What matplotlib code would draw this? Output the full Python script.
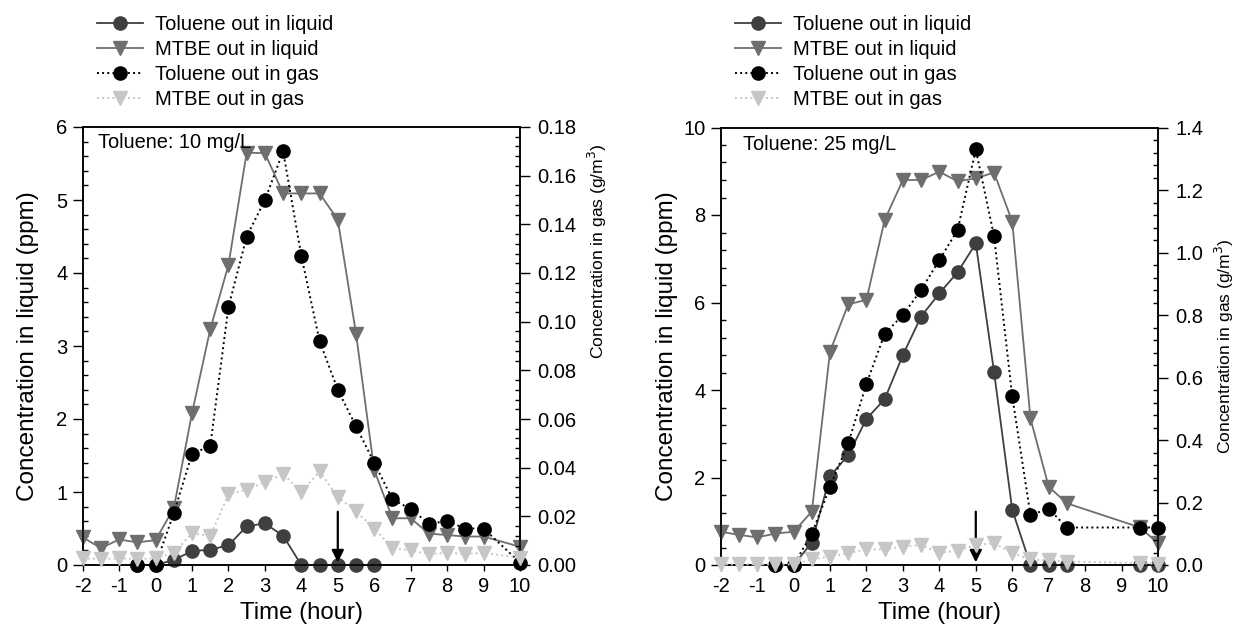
import matplotlib
matplotlib.use("Agg")
import matplotlib.pyplot as plt
from matplotlib.lines import Line2D
from matplotlib.ticker import MultipleLocator, FormatStrFormatter

plt.rcParams['font.family'] = ['Liberation Sans', 'DejaVu Sans']

# ---------------- Toluene 10 mg/L ----------------
a_tol_liq_t = [-0.5, 0, 0.5, 1, 1.5, 2, 2.5, 3, 3.5, 4, 4.5, 5, 5.5, 6]
a_tol_liq = [0, 0, 0.07, 0.19, 0.21, 0.27, 0.53, 0.57, 0.40, 0, 0, 0, 0, 0]

a_mtbe_liq_t = [-2, -1.5, -1, -0.5, 0, 0.5, 1, 1.5, 2, 2.5, 3, 3.5, 4, 4.5, 5,
                5.5, 6, 6.5, 7, 7.5, 8, 8.5, 9, 10]
a_mtbe_liq = [0.38, 0.23, 0.35, 0.31, 0.34, 0.78, 2.08, 3.23, 4.11, 5.65, 5.64,
              5.09, 5.09, 5.09, 4.73, 3.17, 1.30, 0.64, 0.64, 0.43, 0.41, 0.39,
              0.39, 0.25]

a_tol_gas_t = [-0.5, 0, 0.5, 1, 1.5, 2, 2.5, 3, 3.5, 4, 4.5, 5, 5.5, 6, 6.5,
               7, 7.5, 8, 8.5, 9, 10]
a_tol_gas = [0, 0, 0.0213, 0.0456, 0.049, 0.106, 0.135, 0.150, 0.170, 0.127,
             0.092, 0.072, 0.057, 0.042, 0.027, 0.023, 0.017, 0.018, 0.015,
             0.015, 0.001]

a_mtbe_gas_t = [-2, -1.5, -1, -0.5, 0, 0.5, 1, 1.5, 2, 2.5, 3, 3.5, 4, 4.5, 5,
                5.5, 6, 6.5, 7, 7.5, 8, 8.5, 9, 10]
a_mtbe_gas = [0.0027, 0.0025, 0.0027, 0.0025, 0.0027, 0.005, 0.013, 0.012,
              0.029, 0.031, 0.034, 0.0375, 0.030, 0.0385, 0.028, 0.022, 0.015,
              0.007, 0.006, 0.0045, 0.005, 0.0045, 0.005, 0.003]

# ---------------- Toluene 25 mg/L ----------------
b_tol_liq_t = [-0.5, 0, 0.5, 1, 1.5, 2, 2.5, 3, 3.5, 4, 4.5, 5, 5.5, 6, 6.5,
               7, 7.5, 9.5, 10]
b_tol_liq = [0, 0, 0.51, 2.03, 2.51, 3.34, 3.79, 4.80, 5.68, 6.21, 6.69, 7.35,
             4.42, 1.26, 0, 0, 0, 0, 0]

b_mtbe_liq_t = [-2, -1.5, -1, -0.5, 0, 0.5, 1, 1.5, 2, 2.5, 3, 3.5, 4, 4.5, 5,
                5.5, 6, 6.5, 7, 7.5, 9.5, 10]
b_mtbe_liq = [0.76, 0.69, 0.63, 0.72, 0.76, 1.22, 4.88, 5.96, 6.06, 7.89, 8.80,
              8.80, 8.99, 8.77, 8.84, 8.97, 7.85, 3.35, 1.79, 1.41, 0.86, 0.50]

b_tol_gas_t = [-0.5, 0, 0.5, 1, 1.5, 2, 2.5, 3, 3.5, 4, 4.5, 5, 5.5, 6, 6.5,
               7, 7.5, 9.5, 10]
b_tol_gas = [0, 0, 0.10, 0.25, 0.39, 0.58, 0.74, 0.80, 0.88, 0.976, 1.072,
             1.33, 1.053, 0.54, 0.16, 0.18, 0.12, 0.12, 0.12]

b_mtbe_gas_t = [-2, -1.5, -1, -0.5, 0, 0.5, 1, 1.5, 2, 2.5, 3, 3.5, 4, 4.5, 5,
                5.5, 6, 6.5, 7, 7.5, 9.5, 10]
b_mtbe_gas = [0.002, 0.002, 0.002, 0.002, 0.002, 0.018, 0.027, 0.038, 0.05,
              0.05, 0.059, 0.064, 0.039, 0.046, 0.064, 0.07, 0.038, 0.018,
              0.015, 0.011, 0.006, 0.003]

panel_titles = ["Toluene: 10 mg/L", "Toluene: 25 mg/L"]
legend_labels = ["Toluene out in liquid", "MTBE out in liquid",
                 "Toluene out in gas", "MTBE out in gas"]
x_ticks = list(range(-2, 11))

C_TOL_LIQ = '#3f3f3f'
C_MTBE_LIQ = '#6e6e6e'
C_TOL_GAS = '#000000'
C_MTBE_GAS = '#c6c6c6'
MS = 9.5
TICK_FS = 14.5

W, H = 1238, 638
fig = plt.figure(figsize=(W / 100, H / 100), dpi=100)


def px_axes(x0, y0, x1, y1):
    return fig.add_axes([x0 / W, 1 - y1 / H, (x1 - x0) / W, (y1 - y0) / H])


def style_axis(ax, side):
    ax.tick_params(axis='y', which='major', direction='out', length=7,
                   width=1, labelsize=TICK_FS,
                   pad=4 if side == 'left' else 5.5)
    ax.tick_params(axis='y', which='minor', direction='in', length=3.8,
                   width=1)
    if side == 'left':
        ax.tick_params(axis='x', which='major', direction='out', length=4.5,
                       width=1, labelsize=TICK_FS, pad=4.5)
    for s in ax.spines.values():
        s.set_linewidth(1.1)


panels = [
    dict(box=(82.7, 127, 520, 565), ylim=6, ymaj=1, ymin=0.2, glim=0.18,
         gmaj=0.02, gmin=0.004, gfmt='%.2f',
         data=(a_tol_liq_t, a_tol_liq, a_mtbe_liq_t, a_mtbe_liq,
               a_tol_gas_t, a_tol_gas, a_mtbe_gas_t, a_mtbe_gas),
         ylab_x=28, glab_x=609, glab_y=251, arrow_top=0.73,
         title_xy=(0.035, 0.952), leg=(97, 15)),
    dict(box=(720.7, 127.5, 1158, 565), ylim=10, ymaj=2, ymin=0.4, glim=1.4,
         gmaj=0.2, gmin=0.04, gfmt='%.1f',
         data=(b_tol_liq_t, b_tol_liq, b_mtbe_liq_t, b_mtbe_liq,
               b_tol_gas_t, b_tol_gas, b_mtbe_gas_t, b_mtbe_gas),
         ylab_x=667, glab_x=1236, glab_y=346, arrow_top=1.22,
         title_xy=(0.051, 0.949), leg=(735, 15)),
]

for i, p in enumerate(panels):
    ax = px_axes(*p['box'])
    ax2 = ax.twinx()
    tl_t, tl, ml_t, ml, tg_t, tg, mg_t, mg = p['data']

    ax.plot(ml_t, ml, '-', color=C_MTBE_LIQ, lw=1.3, marker='v', ms=MS,
            mfc=C_MTBE_LIQ, mec=C_MTBE_LIQ, clip_on=False, zorder=3)
    ax.plot(tl_t, tl, '-', color=C_TOL_LIQ, lw=1.3, marker='o', ms=MS,
            mfc=C_TOL_LIQ, mec=C_TOL_LIQ, clip_on=False, zorder=4)
    ax2.plot(tg_t, tg, ':', color=C_TOL_GAS, lw=1.4, marker='o', ms=MS,
             mfc=C_TOL_GAS, mec=C_TOL_GAS, clip_on=False, zorder=3)
    ax2.plot(mg_t, mg, ':', color=C_MTBE_GAS, lw=1.4, marker='v', ms=MS,
             mfc=C_MTBE_GAS, mec=C_MTBE_GAS, clip_on=False, zorder=4)

    ax.set_xlim(-2, 10)
    ax.set_ylim(0, p['ylim'])
    ax2.set_ylim(0, p['glim'])
    ax.set_xticks(x_ticks)
    ax.set_xticklabels([str(t) for t in x_ticks])
    ax.yaxis.set_major_locator(MultipleLocator(p['ymaj']))
    ax.yaxis.set_minor_locator(MultipleLocator(p['ymin']))
    ax2.yaxis.set_major_locator(MultipleLocator(p['gmaj']))
    ax2.yaxis.set_minor_locator(MultipleLocator(p['gmin']))
    ax2.yaxis.set_major_formatter(FormatStrFormatter(p['gfmt']))
    style_axis(ax, 'left')
    style_axis(ax2, 'right')
    ax.patch.set_visible(False)

    ax.annotate('', xy=(5, p['ylim'] * 0.006), xytext=(5, p['arrow_top']),
                arrowprops=dict(arrowstyle='-|>', color='black', lw=1.6,
                                mutation_scale=18, shrinkA=0, shrinkB=0),
                zorder=6)

    tx, ty = p['title_xy']
    ax.text(tx, ty, panel_titles[i], transform=ax.transAxes,
            ha='left', va='baseline', fontsize=14.4)

    ax.set_xlabel('Time (hour)', fontsize=17.3, labelpad=4)
    x0, y0, x1, y1 = p['box']
    fig.text(p['ylab_x'] / W, 1 - (y0 + y1) / 2 / H,
             'Concentration in liquid (ppm)', rotation=90, ha='center',
             va='center', fontsize=17.5)
    fig.text(p['glab_x'] / W, 1 - p['glab_y'] / H,
             r'Concentration in gas (g/m$^3$)', rotation=90, ha='right',
             va='center', fontsize=12.6)

    handles = [
        Line2D([], [], color=C_TOL_LIQ, lw=1.3, marker='o', ms=MS,
               mfc=C_TOL_LIQ, mec=C_TOL_LIQ),
        Line2D([], [], color=C_MTBE_LIQ, lw=1.3, marker='v', ms=MS,
               mfc=C_MTBE_LIQ, mec=C_MTBE_LIQ),
        Line2D([], [], color=C_TOL_GAS, lw=1.4, ls=':', marker='o', ms=MS,
               mfc=C_TOL_GAS, mec=C_TOL_GAS),
        Line2D([], [], color=C_MTBE_GAS, lw=1.4, ls=':', marker='v', ms=MS,
               mfc=C_MTBE_GAS, mec=C_MTBE_GAS),
    ]
    lx, ly = p['leg']
    fig.legend(handles, legend_labels, loc='upper left',
               bbox_to_anchor=(lx / W, 1 - ly / H), frameon=False,
               fontsize=14.5, handlelength=2.3, handletextpad=0.6,
               labelspacing=0.3, borderaxespad=0, borderpad=0)

fig.savefig('out.png', dpi=100)
